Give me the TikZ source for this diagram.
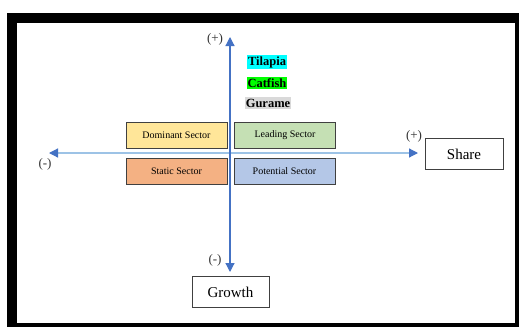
\documentclass[tikz,border=0pt]{standalone}
\usepackage{fontspec}
\setmainfont{Liberation Serif}
\usetikzlibrary{arrows.meta}
\definecolor{axisblue}{HTML}{4472C4}
\definecolor{axislight}{HTML}{9DC3E6}
\definecolor{domfill}{HTML}{FFE699}
\definecolor{leadfill}{HTML}{C5E0B4}
\definecolor{statfill}{HTML}{F4B183}
\definecolor{potfill}{HTML}{B4C7E7}
\definecolor{boxline}{HTML}{404040}
\definecolor{hlcyan}{HTML}{00FFFF}
\definecolor{hlgreen}{HTML}{00FF00}
\definecolor{hlgrey}{HTML}{D9D9D9}
\tikzset{
  sectorbox/.style={draw=boxline, line width=0.9pt, minimum width=101pt, minimum height=26pt,
    inner sep=0pt, font=\fontsize{10}{11}\selectfont},
  labelbox/.style={draw=boxline, line width=0.8pt, minimum width=78pt, minimum height=31pt,
    inner sep=0pt, font=\fontsize{15}{16}\selectfont},
  fishtag/.style={inner xsep=0.8pt, inner ysep=1.5pt, font=\bfseries\fontsize{12.5}{13}\selectfont},
  signlabel/.style={inner sep=0pt, font=\fontsize{13}{14}\selectfont, text=black!80},
}
\begin{document}
\begin{tikzpicture}[x=1pt, y=-1pt]
  \useasboundingbox (0,0) rectangle (519,327);
  % page frame
  \fill[black] (7,13) rectangle (519,327);
  \fill[white] (17,23) rectangle (515,323);

  % axis end points
  \coordinate (top) at (230,37);
  \coordinate (bottom) at (230,272);
  \coordinate (left) at (49,153);
  \coordinate (right) at (418,153);

  % axes
  \draw[axislight, line width=1.2pt, {Triangle[width=9pt,length=9pt,color=axisblue]}-{Triangle[width=9pt,length=9pt,color=axisblue]}]
    (left) -- (right);
  \draw[axisblue, line width=1.2pt, {Triangle[width=9pt,length=9pt]}-{Triangle[width=9pt,length=9pt]}]
    (top) -- (bottom);

  % quadrant boxes
  \node[sectorbox, fill=domfill]  (dominant)  at (176.5,135) {Dominant Sector};
  \node[sectorbox, fill=leadfill] (leading)   at (285,135)   {Leading Sector};
  \node[sectorbox, fill=statfill] (static)    at (176.5,171.5) {Static Sector};
  \node[sectorbox, fill=potfill]  (potential) at (284.5,171.5) {Potential Sector};

  % axis titles
  \node[labelbox] (share)  at (464,154) {Share};
  \node[labelbox, minimum width=77pt] (growth) at (230.5,292) {Growth};

  % sign labels
  \node[signlabel] (ptop)    at (215,39)  {(+)};
  \node[signlabel] (mbottom) at (215,260) {(-)};
  \node[signlabel] (mleft)   at (45,164)  {(-)};
  \node[signlabel] (pright)  at (414,136) {(+)};

  % commodities
  \node[fishtag, fill=hlcyan]  (tilapia) at (267,62)  {Tilapia};
  \node[fishtag, fill=hlgreen] (catfish) at (267,83)  {Catfish};
  \node[fishtag, fill=hlgrey]  (gurame)  at (268,103) {Gurame};
\end{tikzpicture}
\end{document}
